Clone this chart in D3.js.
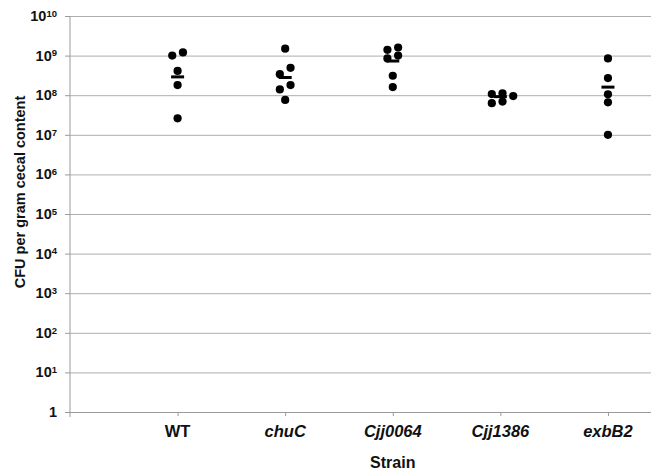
<!DOCTYPE html>
<html>
<head>
<meta charset="utf-8">
<script src="https://cdn.jsdelivr.net/npm/d3@7"></script>
<style>
body { margin: 0; background: #fff; }
svg text { font-family: "Liberation Sans", Arial, sans-serif; font-weight: bold; fill: #111; }
.grid line { stroke: #aeaeae; }
.grid path { display: none; }
.axis path, .axis line { stroke: #9a9a9a; }
</style>
</head>
<body>
<script>
// values (CFU per gram cecal content)
var strains = ['WT', 'chuC', 'Cjj0064', 'Cjj1386', 'exbB2'];
var italicName = [false, true, true, true, true];
var cfuWT = [1.2e9, 1.0e9, 4.1e8, 1.8e8, 2.6e7];
var cfuChuC = [1.5e9, 4.9e8, 3.4e8, 1.8e8, 1.4e8, 7.6e7];
var cfuCjj0064 = [1.6e9, 1.4e9, 1.0e9, 8.5e8, 3.1e8, 1.6e8];
var cfuCjj1386 = [1.12e8, 1.07e8, 9.5e7, 6.9e7, 6.3e7];
var cfuExbB2 = [8.5e8, 2.7e8, 1.05e8, 6.6e7, 1.0e7];
var geoMeans = [2.9e8, 2.8e8, 7.3e8, 9.2e7, 1.6e8];
var yExponents = [0, 1, 2, 3, 4, 5, 6, 7, 8, 9, 10];

(function() {
    var w = 652,
        h = 473,
        left = 70,
        right = 651,
        top = 16,
        bottom = 412,
        r = 4.1; // dot radius

    var groups = [cfuWT, cfuChuC, cfuCjj0064, cfuCjj1386, cfuExbB2];

    var svg = d3.select('body')
        .append('svg')
        .attr('width', w)
        .attr('height', h);

    var x = d3.scaleLinear().domain([0, 5.4]).range([left, right]);
    var y = d3.scaleLog().domain([1, 1e10]).range([bottom, top]);
    var tickVals = yExponents.map(function(e) { return Math.pow(10, e); });

    // gridlines
    svg.append('g')
        .attr('class', 'grid')
        .attr('transform', 'translate(' + left + ',0)')
        .call(d3.axisLeft(y).tickValues(tickVals.slice(1)).tickFormat('')
            .tickSizeInner(-(right - left)).tickSizeOuter(0));

    // y axis with small outward ticks
    var yAxis = svg.append('g')
        .attr('class', 'axis')
        .attr('transform', 'translate(' + left + ',0)')
        .call(d3.axisLeft(y).tickValues(tickVals).tickFormat('')
            .tickSizeInner(5).tickSizeOuter(0));
    yAxis.select('.domain').attr('d', 'M0,' + top + 'V' + (bottom + 5));

    // x axis
    var xAxis = svg.append('g')
        .attr('class', 'axis')
        .attr('transform', 'translate(0,' + bottom + ')')
        .call(d3.axisBottom(x).tickValues(d3.range(1, strains.length + 1)).tickFormat('')
            .tickSizeInner(4).tickSizeOuter(0));
    xAxis.select('.domain').attr('d', 'M' + left + ',0.5H' + right);

    // y tick labels as 10^n
    var labels = svg.append('g')
        .selectAll('text')
        .data(yExponents)
        .enter()
        .append('text')
        .attr('x', 57)
        .attr('y', function(e) { return y(Math.pow(10, e)) + 5; })
        .attr('text-anchor', 'end')
        .style('font-size', '14.5px');
    labels.append('tspan')
        .text(function(e) { return e === 0 ? '1' : '10'; });
    labels.filter(function(e) { return e > 0; })
        .append('tspan')
        .attr('dy', '-0.45em')
        .style('font-size', '9.5px')
        .text(function(e) { return e; });

    // category labels
    svg.append('g')
        .selectAll('text')
        .data(strains)
        .enter()
        .append('text')
        .attr('x', function(d, i) { return x(i + 1); })
        .attr('y', 437)
        .attr('text-anchor', 'middle')
        .style('font-size', '16.5px')
        .style('font-style', function(d, i) { return italicName[i] ? 'italic' : 'normal'; })
        .text(function(d) { return d; });

    svg.append('text')
        .attr('x', x(3))
        .attr('y', 468)
        .attr('text-anchor', 'middle')
        .style('font-size', '16px')
        .text('Strain');

    svg.append('text')
        .attr('transform', 'translate(25,' + 192 + ') rotate(-90)')
        .attr('text-anchor', 'middle')
        .style('font-size', '14.5px')
        .text('CFU per gram cecal content');

    // spread touching dots sideways, then centre each run of touching dots
    function dodge(values, gap, step) {
        var pts = values.map(function(v) { return { v: v, py: y(v), dx: 0 }; })
            .sort(function(a, b) { return a.py - b.py; });
        var order = [0, -1, 1, -2, 2, -3, 3];
        var placed = [];
        pts.forEach(function(p) {
            for (var k = 0; k < order.length; k++) {
                var dx = order[k] * step;
                var hit = placed.some(function(q) {
                    var a = q.dx - dx, b = q.py - p.py;
                    return Math.sqrt(a * a + b * b) < gap;
                });
                if (!hit) { p.dx = dx; break; }
            }
            placed.push(p);
        });
        var run = [];
        function flush() {
            var m = d3.mean(run, function(d) { return d.dx; });
            run.forEach(function(d) { d.dx -= m; });
            run = [];
        }
        pts.forEach(function(p, i) {
            if (i > 0 && p.py - pts[i - 1].py >= gap) flush();
            run.push(p);
        });
        flush();
        return pts;
    }

    var dots = svg.append('g');
    groups.forEach(function(vals, i) {
        dots.append('g')
            .selectAll('circle')
            .data(dodge(vals, 7.4, 10.7))
            .enter()
            .append('circle')
            .attr('cx', function(d) { return x(i + 1) + d.dx; })
            .attr('cy', function(d) { return y(d.v); })
            .attr('r', r)
            .attr('fill', '#000');
    });

    // mean bars
    svg.append('g')
        .selectAll('rect')
        .data(geoMeans)
        .enter()
        .append('rect')
        .attr('x', function(d, i) { return x(i + 1) - 6.5; })
        .attr('y', function(d) { return y(d) - 1.5; })
        .attr('width', 13)
        .attr('height', 3)
        .attr('fill', '#000');
})();
</script>
</body>
</html>
